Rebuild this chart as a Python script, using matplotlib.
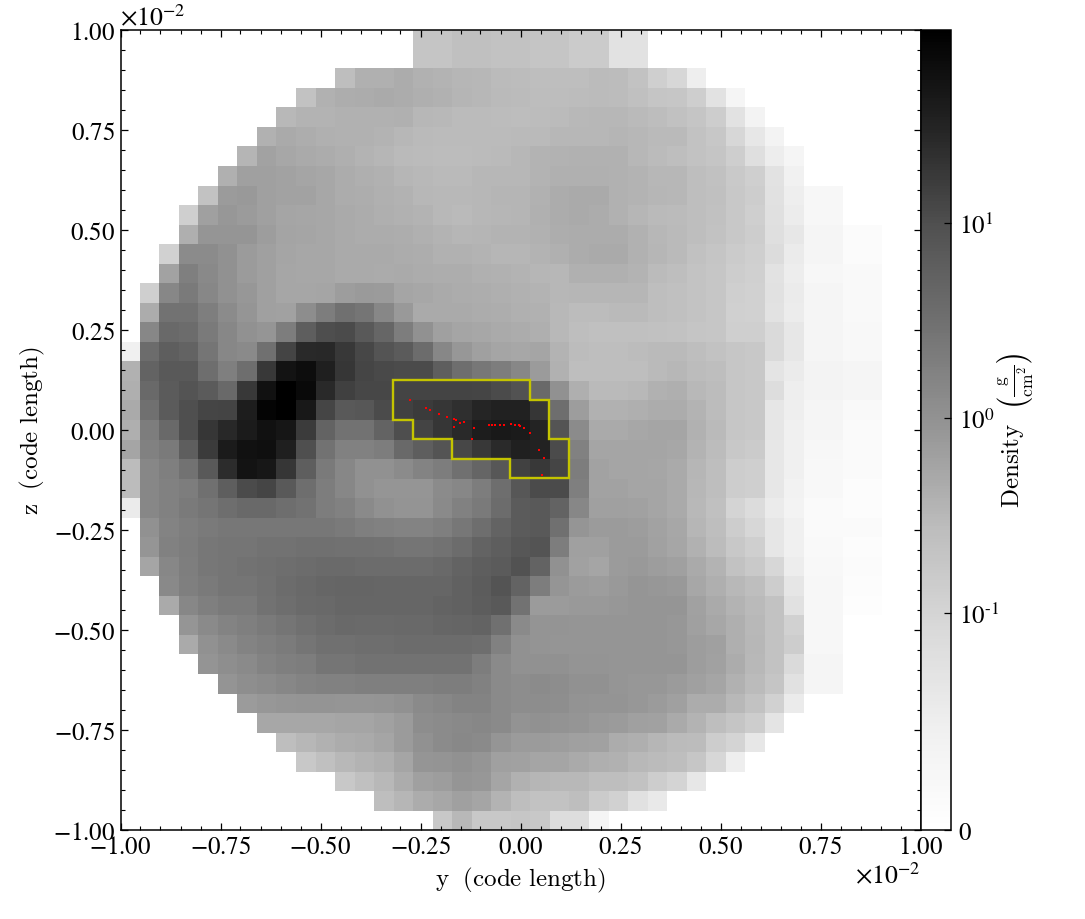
import numpy as np
import matplotlib
matplotlib.use("Agg")
import matplotlib.pyplot as plt
from matplotlib.colors import SymLogNorm
from matplotlib.ticker import MultipleLocator, ScalarFormatter, FixedLocator, FixedFormatter

plt.rcParams['font.family'] = ['STIXGeneral', 'DejaVu Serif']
plt.rcParams['mathtext.fontset'] = 'stix'

# First occupied column in each of the 41 rows (top to bottom)
row_start = [15, 15, 11, 9, 8, 7, 6, 5, 4, 3, 3, 2, 2, 1, 1, 1, 0, 0, 0, 0, 0, 0, 0, 0, 0,
             1, 1, 1, 2, 2, 3, 3, 4, 5, 6, 7, 8, 9, 11, 13, 16]

# Shade for each occupied cell, row by row (0 black .. 255 white)
shade_rows = [
 [197,197,192,192,195,195,197,197,203,203,226,226],
 [197,197,192,192,195,195,197,197,203,203,226,226],
 [190,176,176,172,178,180,182,184,187,188,190,190,190,187,188,195,208,215,238],
 [195,178,174,172,170,173,175,178,181,183,186,187,189,189,188,187,188,192,197,198,206,226,245],
 [185,180,180,178,178,177,176,183,185,187,187,188,189,188,187,185,184,184,186,189,193,197,205,227,243],
 [178,170,174,176,178,178,180,184,186,187,187,187,187,186,186,184,183,183,181,183,186,186,195,199,215,231,243],
 [181,163,168,170,172,175,180,182,186,187,188,188,187,186,184,180,179,178,178,178,183,187,190,195,197,206,223,237,245],
 [176,160,160,163,165,168,172,175,178,182,185,186,186,184,184,183,180,176,176,176,177,180,183,184,190,193,202,208,227,241],
 [195,155,153,160,163,163,168,172,174,176,179,183,185,185,183,181,181,177,172,170,170,177,180,182,184,190,192,200,205,225,238,247,247],
 [208,160,152,155,160,165,166,168,170,172,175,177,180,185,186,183,182,181,176,172,170,172,177,182,186,187,190,194,200,207,224,236,247,247],
 [175,150,150,150,158,164,165,168,170,172,173,174,176,180,182,181,180,180,178,174,172,172,172,178,184,186,190,195,200,205,223,232,245,245,251,251],
 [210,140,140,145,155,160,165,168,168,170,170,170,172,174,177,178,180,182,182,180,176,172,170,170,177,182,186,193,197,203,207,220,235,245,245,251,251],
 [163,128,137,145,155,160,166,168,168,170,170,171,170,172,174,174,176,178,180,182,184,176,176,176,180,187,190,196,198,205,209,226,237,247,247,249,249],
 [208,135,122,135,145,152,160,166,166,165,158,154,155,165,168,170,172,174,175,178,180,184,182,182,182,182,190,192,196,198,208,210,225,235,245,245,249,249],
 [172,114,115,127,140,150,160,162,142,125,112,118,135,153,170,170,170,172,174,176,177,185,188,188,186,186,190,192,196,198,209,210,227,236,245,245,249,249],
 [135,105,108,122,135,145,150,125,95,78,75,90,103,125,145,160,165,168,170,172,175,185,190,192,192,192,194,195,197,198,207,208,218,232,245,245,248,248],
 [240,108,95,100,118,135,138,112,68,42,40,58,72,85,92,108,135,152,160,165,168,165,180,188,190,190,188,186,186,190,195,198,200,218,232,245,245,248,248],
 [178,100,90,90,110,128,110,58,20,15,32,55,70,74,76,75,95,110,120,125,135,155,178,190,190,190,190,186,184,188,190,198,200,228,235,243,243,245,245],
 [175,105,92,85,92,105,58,18,0,10,42,65,72,72,68,68,68,68,70,75,82,105,145,175,186,186,185,178,175,185,188,198,200,222,238,243,243,245,245],
 [170,112,92,80,70,68,30,5,0,25,70,90,88,75,66,60,55,47,38,34,34,55,110,158,178,178,175,172,172,180,188,198,200,230,238,245,245,249,249],
 [175,125,105,80,55,40,28,18,22,60,100,115,115,100,78,68,55,42,30,26,28,36,85,140,170,170,168,165,165,178,186,198,200,230,240,245,245,250,250],
 [165,130,122,95,60,28,18,16,32,80,115,130,130,125,105,95,85,72,58,44,33,35,75,130,165,165,165,165,168,180,188,200,203,232,240,247,247,250,250],
 [188,135,128,115,90,45,20,24,55,95,122,135,145,145,140,132,125,112,102,88,66,58,70,125,163,165,165,167,170,182,190,205,207,232,240,248,248,250,250],
 [188,135,130,125,112,95,75,70,90,110,125,135,145,150,150,150,140,135,125,110,88,75,75,128,163,163,165,165,170,183,190,205,207,232,242,248,248,252,252],
 [235,135,130,122,118,110,105,105,110,115,125,130,138,145,148,148,138,130,122,108,92,90,100,135,160,160,162,165,170,185,192,212,220,235,243,250,250,252,252],
 [145,132,127,122,120,120,120,120,120,120,122,128,130,132,132,128,120,110,100,92,90,112,150,155,155,158,163,168,182,190,205,215,230,240,250,250,250,250],
 [150,130,125,120,118,118,115,115,112,112,113,113,115,118,118,115,108,100,95,88,85,125,160,160,155,155,162,167,178,188,200,208,230,240,249,249,252,252],
 [165,135,127,120,118,115,112,110,108,106,106,108,108,108,108,105,100,95,92,82,100,145,162,165,155,153,158,160,170,180,195,202,215,237,248,248,251,251],
 [137,128,122,118,118,113,108,105,103,102,102,103,103,103,103,98,93,85,100,125,150,155,158,153,150,152,153,168,175,185,190,205,230,247,247,252,252],
 [170,135,128,122,122,115,110,106,105,103,103,103,103,103,100,98,94,90,115,155,155,153,153,152,150,150,150,162,170,180,186,195,225,247,247,253,253],
 [150,138,132,128,122,118,112,108,105,106,106,105,105,103,102,100,112,138,148,148,150,150,150,150,150,152,160,168,175,185,195,210,247,247],
 [170,145,138,132,128,123,118,112,112,110,110,108,108,108,108,110,130,145,148,150,150,150,150,150,150,152,158,160,175,183,195,205,247,247],
 [148,143,138,132,128,125,118,118,115,115,115,115,115,115,125,138,145,145,145,148,148,150,150,150,150,158,162,172,185,195,218,245,245],
 [148,143,140,135,132,130,130,128,128,128,128,125,125,130,138,142,140,142,145,145,150,152,152,155,160,165,178,187,197,225,245,245],
 [155,152,150,148,148,150,150,148,145,138,135,132,132,138,142,142,143,147,148,148,152,155,160,172,172,185,195,210,235],
 [168,168,168,168,165,165,162,155,142,140,137,135,138,147,145,147,150,153,155,160,162,170,180,190,197,205,228],
 [190,184,178,172,170,165,155,145,140,136,138,150,155,155,158,160,162,172,175,182,187,188,205,212,232],
 [200,192,185,180,175,165,150,148,145,150,160,162,165,165,170,175,178,185,187,190,198,215,238],
 [200,192,185,172,160,158,150,152,165,178,182,185,185,190,190,195,205,212,232],
 [190,182,172,168,160,165,180,190,195,195,190,203,210,225,233],
 [200,185,200,200,198,200,222,222,245],
]

# Outlined clump: first and last column of the contour in each of its rows
clump_rows = [18, 19, 20, 21, 22]
clump_first = [14, 14, 15, 17, 20]
clump_last = [20, 21, 21, 22, 22]

# Particle positions (code length)
particle_y = np.array([-0.2775,-0.2375,-0.2275,-0.205,-0.185,-0.166,-0.161,-0.152,-0.142,-0.166,-0.1175,-0.1217,
                       -0.0783,-0.0708,-0.065,-0.0525,-0.0425,-0.0233,-0.014,-0.005,-0.001,0.0075,0.0233,0.045,0.059,0.0525]) * 1e-2
particle_z = np.array([0.0742,0.0533,0.0492,0.0392,0.0317,0.0267,0.0242,0.0158,0.02,0.0075,0.0033,-0.024,
                       0.0117,0.0117,0.0117,0.0117,0.0125,0.0133,0.0117,0.0117,0.01,0.004,-0.009,-0.05,-0.0717,-0.113]) * 1e-2

half_width = 1e-2
n_cells = 41
bar_ticks = [0, 0.1, 1, 10]
bar_labels = ['0', r'10$^{\text{-}1}$', '10$^{0}$', '10$^{1}$']

# The pixel grid runs slightly past the axes frame
grid_left, grid_right = -1.0022e-2, 1.0005e-2
grid_bottom, grid_top = -1.0008e-2, 1.0018e-2

W, H = 1085, 920
fig = plt.figure(figsize=(W / 100, H / 100), dpi=100)
ax = fig.add_axes([120.5 / W, (H - 830.5) / H, 800 / W, 800 / H])
cax = fig.add_axes([920.5 / W, (H - 830.5) / H, 30 / W, 800 / H])

cmap = plt.get_cmap('Greys')
norm = SymLogNorm(linthresh=0.1, linscale=1.0, vmin=0, vmax=99, base=10)

# Turn the shades into densities through the colour scale
fractions = np.linspace(0, 1, 512)
lut_shade = cmap(fractions)[:, 0] * 255
density = np.zeros((n_cells, n_cells))
for r, (start, shades) in enumerate(zip(row_start, shade_rows)):
    f = np.interp(shades, lut_shade[::-1], fractions[::-1])
    density[r, start:start + len(shades)] = norm.inverse(f)

im = ax.imshow(density, origin='upper', cmap=cmap, norm=norm, interpolation='nearest', aspect='auto',
               extent=[grid_left, grid_right, grid_bottom, grid_top])

# Contour outline from the clump rows
cell_x = (grid_right - grid_left) / n_cells
cell_z = (grid_top - grid_bottom) / n_cells
px, pz = [], []
for r, last in zip(clump_rows, clump_last):
    x = grid_left + (last + 1) * cell_x
    px += [x, x]
    pz += [grid_top - r * cell_z, grid_top - (r + 1) * cell_z]
for r, first in zip(clump_rows[::-1], clump_first[::-1]):
    x = grid_left + first * cell_x
    px += [x, x]
    pz += [grid_top - (r + 1) * cell_z, grid_top - r * cell_z]
ax.fill(px, pz, fill=False, edgecolor='#c4c400', linewidth=1.7, joinstyle='miter')

ax.scatter(particle_y, particle_z, s=0.8, c='red', marker='s', linewidths=0, zorder=5)

ax.set_xlim(-half_width, half_width)
ax.set_ylim(-half_width, half_width)

for axis in (ax.xaxis, ax.yaxis):
    axis.set_major_locator(MultipleLocator(0.25e-2))
    axis.set_minor_locator(MultipleLocator(0.05e-2))
    fmt = ScalarFormatter(useMathText=True)
    fmt.set_powerlimits((0, 0))
    axis.set_major_formatter(fmt)
    axis.get_offset_text().set_fontsize(18.5)
ax.tick_params(which='major', direction='in', length=5.2, width=0.9, top=True, right=True, labelsize=18, pad=4)
ax.tick_params(which='minor', direction='in', length=2.8, width=0.8, top=True, right=True)
for s in ax.spines.values():
    s.set_linewidth(1.1)

ax.set_xlabel(r'$\mathrm{y\ \ (code\ length)}$', fontsize=18, math_fontfamily='cm', labelpad=4)
ax.set_ylabel(r'$\mathrm{z\ \ (code\ length)}$', fontsize=18, math_fontfamily='cm', labelpad=4)

cb = fig.colorbar(im, cax=cax)
cb.minorticks_off()
cax.yaxis.set_major_locator(FixedLocator(bar_ticks))
cax.yaxis.set_major_formatter(FixedFormatter(bar_labels))
cax.yaxis.set_minor_locator(FixedLocator([]))
cax.tick_params(axis='y', which='major', direction='in', length=5.2, width=0.9, labelsize=18, pad=6)
cb.outline.set_linewidth(1.1)
cb.set_label(r'$\mathrm{Density}\ \ \left(\frac{\mathrm{g}}{\mathrm{cm}^{2}}\right)$', fontsize=18,
             math_fontfamily='cm', labelpad=-3)

fig.savefig('out.png', dpi=100)
